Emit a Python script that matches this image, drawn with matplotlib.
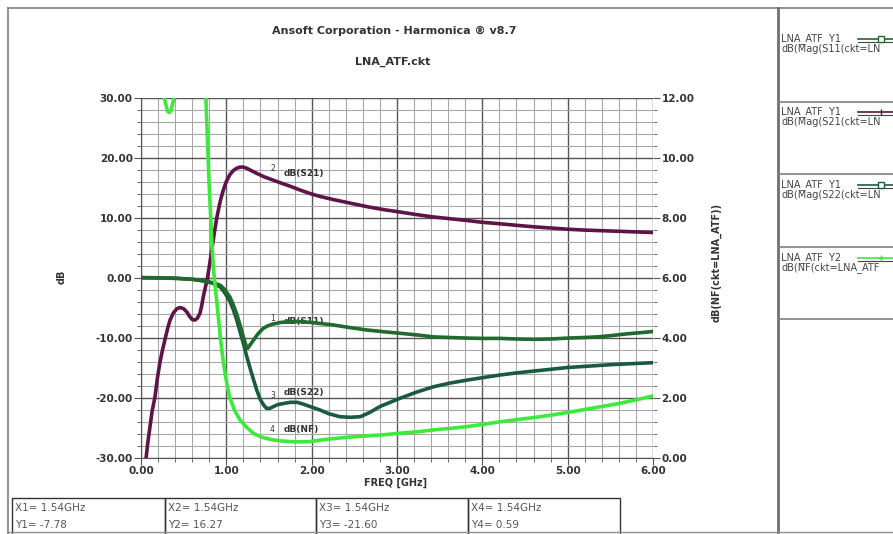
import matplotlib
matplotlib.use("Agg")
import matplotlib.pyplot as plt
from matplotlib.lines import Line2D
from matplotlib.patches import Rectangle
from matplotlib.ticker import MultipleLocator, FormatStrFormatter

W, H = 893, 534

# ---------------- data ----------------
s21_f = [0.06, 0.08, 0.105, 0.13, 0.164, 0.19, 0.22, 0.25, 0.28, 0.31, 0.34, 0.38, 0.42,
         0.46, 0.50, 0.54, 0.57, 0.60, 0.63, 0.66, 0.69, 0.71, 0.73, 0.755, 0.78, 0.80,
         0.83, 0.86, 0.89, 0.93, 0.965, 1.0, 1.04, 1.08, 1.12, 1.16, 1.20, 1.24, 1.28,
         1.35, 1.44, 1.54, 1.65, 1.75, 1.86, 1.98, 2.1, 2.25, 2.45, 2.65, 2.85, 3.04,
         3.22, 3.42, 3.62, 3.82, 4.0, 4.21, 4.4, 4.6, 4.8, 5.0, 5.2, 5.4, 5.6, 5.8, 6.0]
s21_db = [-30.0, -27.5, -24.9, -22.3, -19.9, -17.0, -14.3, -12.2, -10.4, -8.6, -7.1, -5.9,
          -5.2, -5.0, -5.2, -5.8, -6.5, -7.0, -7.1, -6.8, -6.0, -4.8, -3.2, -1.6, 0.0, 1.8,
          4.6, 7.5, 10.1, 12.8, 14.6, 16.0, 17.1, 17.8, 18.2, 18.4, 18.4, 18.2, 17.9,
          17.4, 16.8, 16.27, 15.7, 15.2, 14.6, 14.0, 13.5, 13.0, 12.4, 11.8, 11.3, 10.9,
          10.5, 10.1, 9.8, 9.5, 9.2, 8.95, 8.7, 8.45, 8.25, 8.05, 7.9, 7.8, 7.7, 7.6, 7.5]

s11_f = [0.0, 0.2, 0.4, 0.6, 0.75, 0.85, 0.93, 0.98, 1.04, 1.08, 1.12, 1.16, 1.20, 1.23,
         1.25, 1.28, 1.32, 1.37, 1.43, 1.48, 1.54, 1.63, 1.75, 1.86, 2.0, 2.25, 2.45, 2.65,
         2.85, 3.04, 3.25, 3.43, 3.62, 3.82, 4.0, 4.21, 4.4, 4.6, 4.8, 5.0, 5.2, 5.34, 5.5,
         5.69, 5.85, 6.0]
s11_db = [-0.05, -0.08, -0.15, -0.3, -0.6, -0.9, -1.3, -2.0, -3.2, -4.5, -6.0, -7.9, -9.9,
          -11.3, -11.8, -11.2, -10.4, -9.4, -8.5, -8.1, -7.78, -7.5, -7.35, -7.35, -7.5,
          -7.9, -8.35, -8.75, -9.05, -9.3, -9.6, -9.9, -10.0, -10.1, -10.15, -10.15, -10.25,
          -10.3, -10.25, -10.1, -10.0, -9.9, -9.7, -9.4, -9.2, -9.0]

s22_f = [0.0, 0.2, 0.4, 0.6, 0.75, 0.85, 0.93, 0.98, 1.04, 1.08, 1.12, 1.16, 1.20, 1.24,
         1.28, 1.32, 1.36, 1.40, 1.44, 1.47, 1.51, 1.54, 1.60, 1.67, 1.75, 1.83, 1.9, 2.0,
         2.1, 2.2, 2.33, 2.45, 2.57, 2.68, 2.8, 2.92, 3.04, 3.23, 3.43, 3.62, 3.82, 4.0,
         4.21, 4.4, 4.6, 4.8, 5.0, 5.27, 5.54, 5.77, 6.0]
s22_db = [0.0, -0.05, -0.1, -0.3, -0.6, -1.0, -1.6, -2.5, -3.9, -5.3, -7.0, -9.0, -11.0,
          -13.2, -15.2, -17.1, -18.9, -20.4, -21.3, -21.8, -21.8, -21.6, -21.2, -21.0,
          -20.8, -20.8, -21.1, -21.6, -22.1, -22.7, -23.2, -23.3, -23.2, -22.5, -21.5,
          -20.8, -20.1, -19.1, -18.2, -17.6, -17.1, -16.7, -16.25, -15.9, -15.6, -15.3,
          -15.0, -14.75, -14.5, -14.35, -14.2]

nf_f = [0.22, 0.25, 0.28, 0.31, 0.33, 0.35, 0.38, 0.41, 0.45, 0.6, 0.72, 0.76, 0.80, 0.83,
        0.85, 0.89, 0.93, 0.955, 0.98, 1.01, 1.04, 1.10, 1.16, 1.24, 1.32, 1.42, 1.54,
        1.65, 1.75, 1.86, 1.98, 2.1, 2.25, 2.45, 2.65, 2.85, 3.04, 3.25, 3.43, 3.62, 3.82,
        4.0, 4.21, 4.4, 4.6, 4.8, 5.0, 5.2, 5.4, 5.6, 5.8, 6.0]
nf_db = [13.2, 12.5, 11.9, 11.55, 11.5, 11.55, 11.9, 12.5, 13.2, 14.5, 13.5, 12.0, 9.0,
         7.2, 6.25, 5.14, 4.0, 3.4, 2.9, 2.4, 2.0, 1.55, 1.25, 1.0, 0.8, 0.67, 0.59, 0.55,
         0.53, 0.52, 0.53, 0.58, 0.63, 0.68, 0.72, 0.76, 0.81, 0.86, 0.92, 0.97, 1.03, 1.1,
         1.19, 1.26, 1.33, 1.41, 1.50, 1.60, 1.70, 1.80, 1.92, 2.05]

title_text = "Ansoft Corporation - Harmonica \u00ae v8.7"
subtitle_text = "LNA_ATF.ckt"
xlabel_text = "FREQ [GHz]"
ylabel_left = "dB"
ylabel_right = "dB(NF(ckt=LNA_ATF))"

curve_names = ["dB(S11)", "dB(S21)", "dB(S22)", "dB(NF)"]
curve_nums = ["1", "2", "3", "4"]
legend_l1 = ["LNA_ATF  Y1", "LNA_ATF  Y1", "LNA_ATF  Y1", "LNA_ATF  Y2"]
legend_l2 = ["dB(Mag(S11(ckt=LN", "dB(Mag(S21(ckt=LN", "dB(Mag(S22(ckt=LN",
             "dB(NF(ckt=LNA_ATF"]
marker_x = ["X1= 1.54GHz", "X2= 1.54GHz", "X3= 1.54GHz", "X4= 1.54GHz"]
marker_y = ["Y1= -7.78", "Y2= 16.27", "Y3= -21.60", "Y4= 0.59"]

C_S11 = "#1f6a2c"
C_S21 = "#5e1446"
C_S22 = "#1b5a3e"
C_NF = "#3cea3c"
TXT = "#333333"

# ---------------- figure ----------------
fig = plt.figure(figsize=(W / 100, H / 100), dpi=100)
fig.patch.set_facecolor("white")

def fx(px):
    return px / W

def fy(py):
    return 1 - py / H

def fline(x0, y0, x1, y1, color="#707070", lw=1.0):
    fig.add_artist(Line2D([fx(x0), fx(x1)], [fy(y0), fy(y1)], color=color, lw=lw,
                          transform=fig.transFigure))

# frame lines
fline(8, 8, 893, 8, "#808080", 1.2)
fline(8, 8, 8, 534, "#808080", 1.2)
fline(778, 8, 778, 534, "#707070", 2.0)
fline(8, 532, 893, 532, "#909090", 1.0)
for yy in [102, 174, 247, 319]:
    fline(778, yy, 893, yy, "#808080", 1.2)

# main axes
x0p, x1p, y0p, y1p = 141, 653, 97.5, 457.5
ax = fig.add_axes([fx(x0p), fy(y1p), (x1p - x0p) / W, (y1p - y0p) / H])
ax2 = ax.twinx()

ax.set_xlim(0, 6)
ax.set_ylim(-30, 30)
ax2.set_ylim(0, 12)

ax.xaxis.set_major_locator(MultipleLocator(1))
ax.xaxis.set_minor_locator(MultipleLocator(0.2))
ax.yaxis.set_major_locator(MultipleLocator(10))
ax.yaxis.set_minor_locator(MultipleLocator(2))
ax2.yaxis.set_major_locator(MultipleLocator(2))
ax2.yaxis.set_minor_locator(MultipleLocator(0.4))
ax.xaxis.set_major_formatter(FormatStrFormatter("%.2f"))
ax.yaxis.set_major_formatter(FormatStrFormatter("%.2f"))
ax2.yaxis.set_major_formatter(FormatStrFormatter("%.2f"))

ax.grid(which="minor", color="#a8a8a8", lw=0.8)
ax.grid(which="major", color="#555555", lw=1.0)
ax.set_axisbelow(True)

for sp in ["top", "right"]:
    ax.spines[sp].set_visible(False)
    ax2.spines[sp].set_visible(False)
ax2.spines["left"].set_visible(False)
ax2.spines["bottom"].set_visible(False)
ax.spines["left"].set_color("#555555")
ax.spines["bottom"].set_color("#555555")

ax.tick_params(axis="both", which="major", length=5, color="#555555", labelsize=7.5,
               labelcolor=TXT, pad=1)
ax.tick_params(axis="both", which="minor", length=3, color="#555555")
ax2.tick_params(axis="y", which="major", length=5, color="#555555", labelsize=7.5,
                labelcolor=TXT, pad=1)
ax2.tick_params(axis="y", which="minor", length=3, color="#555555")
for lab in ax.get_xticklabels() + ax.get_yticklabels() + ax2.get_yticklabels():
    lab.set_fontweight("bold")

# curves
ax.plot(s21_f, s21_db, color=C_S21, lw=2.6, zorder=3)
ax.plot(s22_f, s22_db, color=C_S22, lw=2.6, zorder=3)
ax.plot(s11_f, s11_db, color=C_S11, lw=2.6, zorder=4)
ax2.plot(nf_f, nf_db, color=C_NF, lw=2.6, zorder=3)

# curve labels (markers at 1.54 GHz)
lab_kw = dict(fontsize=6.5, fontweight="bold", color=TXT)
num_kw = dict(fontsize=5.5, color=TXT, ha="center", va="center")
num_pos = [(1.54, -6.9), (1.54, 18.2), (1.54, -19.7), (1.54, -25.3)]
name_pos = [(1.67, -7.4), (1.67, 17.3), (1.67, -19.2), (1.67, -25.4)]
for i in range(4):
    ax.text(num_pos[i][0], num_pos[i][1], curve_nums[i], **num_kw)
    ax.text(name_pos[i][0], name_pos[i][1], curve_names[i], ha="left", va="center",
            **lab_kw)

# titles and axis labels
fig.text(fx(394), fy(31), title_text, ha="center", va="center", fontsize=8,
         fontweight="bold", color=TXT)
fig.text(fx(393), fy(62), subtitle_text, ha="center", va="center", fontsize=8,
         fontweight="bold", color=TXT)
fig.text(fx(396), fy(483), xlabel_text, ha="center", va="center", fontsize=7,
         fontweight="bold", color=TXT)
fig.text(fx(62), fy(277), ylabel_left, ha="center", va="center", rotation=90,
         fontsize=7, fontweight="bold", color=TXT)
fig.text(fx(716), fy(262), ylabel_right, ha="center", va="center", rotation=90,
         fontsize=7, fontweight="bold", color=TXT)

# legend panel
leg_rows = [39, 112, 185, 258]
leg_cols = [C_S11, C_S21, C_S22, C_NF]
leg_marks = ["s", "|", "s", "+"]
for i in range(4):
    yy = leg_rows[i]
    fig.text(fx(781), fy(yy), legend_l1[i], ha="left", va="center", fontsize=7,
             color="#444444")
    fig.text(fx(781), fy(yy + 10), legend_l2[i], ha="left", va="center", fontsize=7,
             color="#444444")
    fline(858, yy, 893, yy, leg_cols[i], 1.2)
    fline(858, yy + 3, 893, yy + 3, "#444444", 0.8)
    fig.add_artist(Line2D([fx(881)], [fy(yy)], marker=leg_marks[i], markersize=4,
                          markerfacecolor="white", markeredgecolor=leg_cols[i],
                          markeredgewidth=1.0, transform=fig.transFigure))

# marker readout boxes
box_x = [12, 165, 316, 468]
box_w = [153, 151, 152, 152]
for i in range(4):
    fig.add_artist(Rectangle((fx(box_x[i]), fy(536)), box_w[i] / W, 38 / H,
                             transform=fig.transFigure, fill=False,
                             edgecolor="#333333", lw=1.0))
    fig.text(fx(box_x[i] + 3), fy(508), marker_x[i], ha="left", va="center",
             fontsize=7.5, color="#555555")
    fig.text(fx(box_x[i] + 3), fy(525), marker_y[i], ha="left", va="center",
             fontsize=7.5, color="#555555")

fig.savefig("out.png", dpi=100)
